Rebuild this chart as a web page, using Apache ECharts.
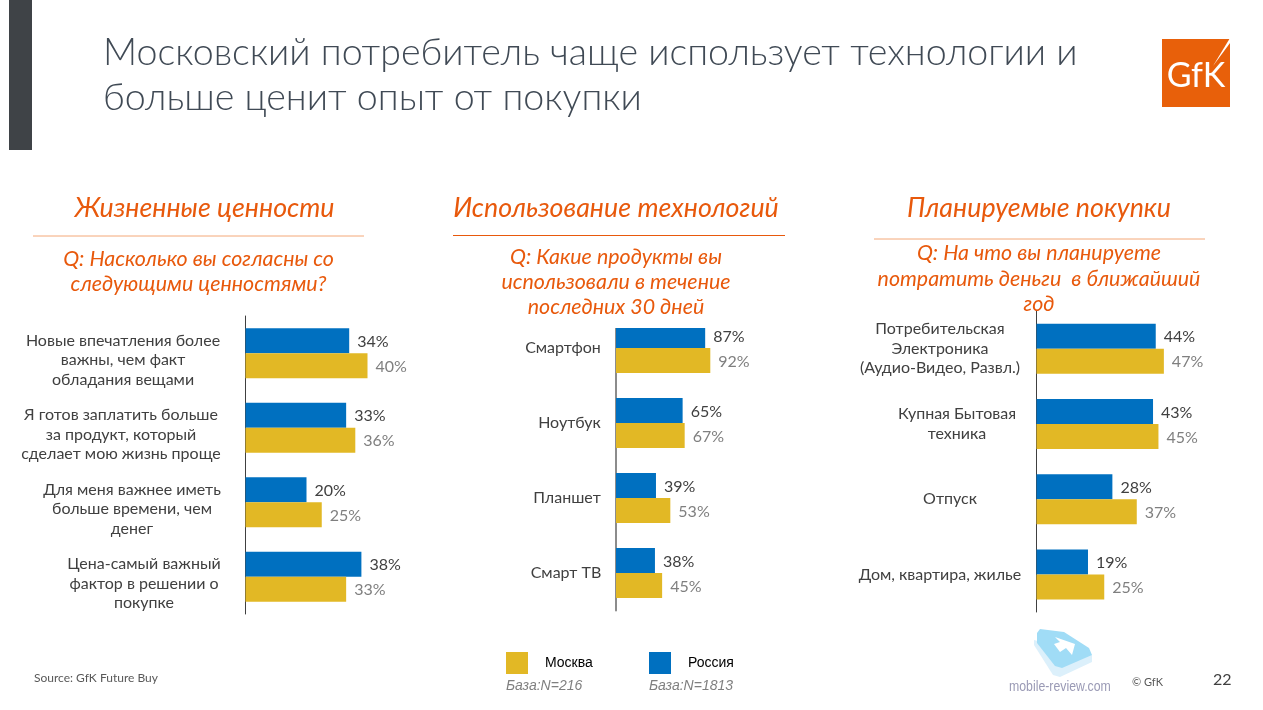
<!DOCTYPE html>
<html>
<head>
<meta charset="utf-8">
<style>html,body{margin:0;padding:0;background:#fff}#main{width:1263px;height:710px}</style>
<script src="https://cdn.jsdelivr.net/npm/echarts@6/dist/echarts.min.js"></script>
</head>
<body>
<div id="main"></div>
<script>
// data
var valuesCats = ['Новые впечатления более\nважны, чем факт\nобладания вещами', 'Я готов заплатить больше\nза продукт, который\nсделает мою жизнь проще', 'Для меня важнее иметь\nбольше времени, чем\nденег', 'Цена-самый важный\nфактор в решении о\nпокупке'];
var valuesRussia = [34, 33, 20, 38];
var valuesMoscow = [40, 36, 25, 33];
var techCats = ['Смартфон', 'Ноутбук', 'Планшет', 'Смарт ТВ'];
var techRussia = [87, 65, 39, 38];
var techMoscow = [92, 67, 53, 45];
var buyCats = ['Потребительская\nЭлектроника\n(Аудио-Видео, Развл.)', 'Купная Бытовая\nтехника', 'Отпуск', 'Дом, квартира, жилье'];
var buyRussia = [44, 43, 28, 19];
var buyMoscow = [47, 45, 37, 25];

var BLUE = '#0070c0', YELLOW = '#e2b825', ORANGE = '#e8590c', FONT = 'Lato';

var chart = echarts.init(document.getElementById('main'));

// block width of each category label, so that its lines centre where the slide has them
var valuesWidths = [196, 200, 178, 154];
var techWidths = [76, 63, 68, 70];
var buyWidths = [164, 130, 144, 164];

function richFor(widths) {
    var rich = {};
    widths.forEach(function (w, i) {
        rich['c' + i] = {width: w, align: 'center', fontFamily: FONT, fontSize: 16, color: '#404040', lineHeight: 19.5};
    });
    return rich;
}

function labelFormatter(cats) {
    return function (value) {
        var i = cats.indexOf(value);
        return value.split('\n').map(function (s) { return '{c' + i + '|' + s + '}'; }).join('\n');
    };
}

var grids = [
    {left: 245.5, top: 316, width: 152.5, height: 298},
    {left: 616, top: 310.5, width: 102.5, height: 300},
    {left: 1036.5, top: 311, width: 135.5, height: 301}
];
var xMax = [50, 100, 50];
var cats = [valuesCats, techCats, buyCats];
var widths = [valuesWidths, techWidths, buyWidths];
var margins = [24.5, 15, 14.5];
var labelPad = [[14, 0, 0, 0], 0, 0]; // first panel's labels sit a little below the band centre
var axisStyle = [{color: '#404040', width: 1}, {color: '#8c8c8c', width: 2}, {color: '#404040', width: 1}];
var russia = [valuesRussia, techRussia, buyRussia];
var moscow = [valuesMoscow, techMoscow, buyMoscow];

var xAxes = [], yAxes = [], series = [];
grids.forEach(function (g, i) {
    xAxes.push({type: 'value', gridIndex: i, min: 0, max: xMax[i], show: false});
    yAxes.push({
        type: 'category', gridIndex: i, inverse: true, data: cats[i],
        axisLine: {show: true, lineStyle: axisStyle[i]},
        axisTick: {show: false},
        axisLabel: {interval: 0, align: 'right', margin: margins[i], padding: labelPad[i], formatter: labelFormatter(cats[i]), rich: richFor(widths[i])}
    });
    series.push({
        name: 'Россия', type: 'bar', xAxisIndex: i, yAxisIndex: i, data: russia[i],
        barWidth: 25, barGap: 0, itemStyle: {color: BLUE},
        label: {show: true, position: 'right', distance: 8, offset: [0, 1], formatter: '{c}%', fontFamily: FONT, fontSize: 16, color: '#404040'}
    });
    series.push({
        name: 'Москва', type: 'bar', xAxisIndex: i, yAxisIndex: i, data: moscow[i],
        barWidth: 25, barGap: 0, itemStyle: {color: YELLOW},
        label: {show: true, position: 'right', distance: 8, offset: [0, 1], formatter: '{c}%', fontFamily: FONT, fontSize: 16, color: '#7f7f7f'}
    });
});

function txt(x, y, text, font, fill, align) {
    return {
        type: 'text', x: x, y: y, z: 101,
        style: {text: text, font: font, fill: fill, align: align || 'left', verticalAlign: 'middle'}
    };
}
function rule(x1, x2, y, color) {
    return {type: 'line', z: 101, shape: {x1: x1, y1: y, x2: x2, y2: y}, style: {stroke: color, lineWidth: 1}};
}

var TITLE = '300 37.6px Lato', HEAD = 'italic 26.8px Lato', QUESTION = 'italic 21.4px Lato';

var watermarkText = txt(1009, 687, 'mobile-review.com', '15px "Liberation Sans"', '#9a9ab5');
watermarkText.scaleX = 0.82;

var graphics = [
    {type: 'rect', shape: {x: 9, y: 0, width: 23, height: 150}, style: {fill: '#3f4347'}},
    // the question box hides the top of the first blue bar in the middle panel
    {type: 'rect', z: 100, shape: {x: 600, y: 300, width: 200, height: 28}, style: {fill: '#fff'}},
    txt(103, 53, 'Московский потребитель чаще использует технологии и', TITLE, '#404a55'),
    txt(103, 98, 'больше ценит опыт от покупки', TITLE, '#404a55'),

    txt(204.5, 208, 'Жизненные ценности', HEAD, ORANGE, 'center'),
    txt(616, 208, 'Использование технологий', HEAD, ORANGE, 'center'),
    txt(1039, 208, 'Планируемые покупки', HEAD, ORANGE, 'center'),
    rule(33, 364, 236, '#f4a878'),
    rule(453, 785, 235.5, ORANGE),
    rule(874, 1205, 239, '#f4a878'),
    txt(198.5, 259, 'Q: Насколько вы согласны со', QUESTION, ORANGE, 'center'),
    txt(198.5, 284, 'следующими ценностями?', QUESTION, ORANGE, 'center'),
    txt(616, 257, 'Q: Какие продукты вы', QUESTION, ORANGE, 'center'),
    txt(616, 282, 'использовали в течение', QUESTION, ORANGE, 'center'),
    txt(616, 307, 'последних 30 дней', QUESTION, ORANGE, 'center'),
    txt(1039, 253, 'Q: На что вы планируете', QUESTION, ORANGE, 'center'),
    txt(1039, 279, 'потратить деньги  в ближайший', QUESTION, ORANGE, 'center'),
    txt(1039, 304, 'год', QUESTION, ORANGE, 'center'),

    // logo
    {type: 'rect', shape: {x: 1162, y: 39, width: 68, height: 68}, style: {fill: '#e8600a'}},
    {type: 'polygon', z: 101, shape: {points: [[1230, 38], [1230, 43], [1213, 66]]}, style: {fill: '#fff'}},
    txt(1196, 76, 'GfK', '400 34px Lato', '#fff', 'center'),

    // watermark
    {type: 'polygon', z: 1, shape: {points: [[1034, 640], [1034, 645], [1053, 675], [1060, 677], [1092, 662], [1092, 655]]}, style: {fill: '#dcf0fb'}},
    {type: 'polygon', z: 2, shape: {points: [[1040, 629], [1064, 632], [1089, 648], [1092, 655], [1062, 668], [1055, 666], [1037, 643], [1037, 633]]}, style: {fill: '#a0dcf6'}},
    {type: 'polygon', z: 3, shape: {points: [[1055, 637], [1075, 644], [1072, 655], [1066, 648], [1060, 652], [1054, 644], [1060, 642]]}, style: {fill: '#fff'}},
    watermarkText,

    txt(506, 686, 'База:N=216', 'italic 14px "Liberation Sans"', '#7f7f7f'),
    txt(649, 686, 'База:N=1813', 'italic 14px "Liberation Sans"', '#7f7f7f'),
    txt(34, 678, 'Source: GfK Future Buy', '12px Lato', '#595959'),
    txt(1132, 682, '© GfK', '11px Lato', '#595959'),
    txt(1213, 680, '22', '16px Lato', '#404040')
];

function legendFor(name, x) {
    return {
        left: x, top: 652, padding: 0, data: [name], selectedMode: false, orient: 'horizontal',
        icon: 'rect', itemWidth: 22, itemHeight: 22,
        textStyle: {fontFamily: 'Liberation Sans', fontSize: 14, color: '#000', padding: [0, 0, 0, 12]}
    };
}

var option = {
    animation: false,
    backgroundColor: '#fff',
    legend: [legendFor('Москва', 506), legendFor('Россия', 649)],
    grid: grids,
    xAxis: xAxes,
    yAxis: yAxes,
    series: series,
    graphic: {elements: graphics}
};
chart.setOption(option);
</script>
</body>
</html>
